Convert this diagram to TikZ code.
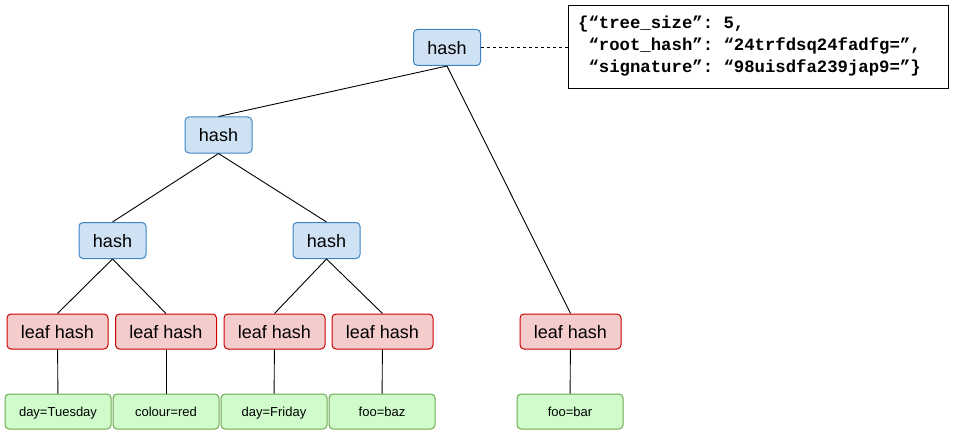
\documentclass[tikz,border=0pt]{standalone}
\usepackage{fontspec}
\setmainfont{Liberation Sans}
\newfontfamily\jsonfont{Liberation Mono}
\definecolor{bfill}{HTML}{CFE2F3}
\definecolor{bdraw}{HTML}{3D85C6}
\definecolor{rfill}{HTML}{F4CCCC}
\definecolor{rdraw}{HTML}{CC0000}
\definecolor{gfill}{HTML}{D0FCCC}
\definecolor{gdraw}{HTML}{6AA84F}
\begin{document}
\begin{tikzpicture}[x=1pt,y=-1pt,
  hashbox/.style={draw=bdraw,line width=1pt,fill=bfill,rounded corners=4pt,minimum width=67pt,minimum height=36pt,inner sep=0pt,text height=14pt,text depth=0pt,font=\fontsize{18}{20}\selectfont},
  leafbox/.style={draw=rdraw,line width=1pt,fill=rfill,rounded corners=4pt,minimum width=101pt,minimum height=35pt,inner sep=0pt,text height=14pt,text depth=0pt,font=\fontsize{18}{20}\selectfont},
  databox/.style={draw=gdraw,line width=1pt,fill=gfill,rounded corners=4pt,minimum width=106pt,minimum height=35pt,inner sep=0pt,text height=10.5pt,text depth=0pt,font=\fontsize{13}{15}\selectfont},
  edge/.style={draw=black,line width=0.9pt}]
\useasboundingbox (0,0) rectangle (954,436);
\node[hashbox] (root) at (447,47.5) {hash};
\node[hashbox] (h2) at (218.5,135) {hash};
\node[hashbox] (h3a) at (112.5,240.5) {hash};
\node[hashbox] (h3b) at (326.5,240.5) {hash};
\node[leafbox] (l1) at (57.5,331.5) {leaf hash};
\node[leafbox] (l2) at (166,331.5) {leaf hash};
\node[leafbox] (l3) at (274.5,331.5) {leaf hash};
\node[leafbox] (l4) at (382.5,331.5) {leaf hash};
\node[leafbox] (l5) at (570.5,331.5) {leaf hash};
\node[databox] (d1) at (58,411.5) {day=Tuesday};
\node[databox] (d2) at (166,411.5) {colour=red};
\node[databox] (d3) at (274,411.5) {day=Friday};
\node[databox] (d4) at (382,411.5) {foo=baz};
\node[databox] (d5) at (570,411.5) {foo=bar};
\node[draw=black,line width=1pt,minimum width=380pt,minimum height=83pt,inner sep=0pt] (json) at (758,47.5) {};
\node[anchor=west,align=left,inner sep=0pt,font=\jsonfont\bfseries\fontsize{17.3}{22}\selectfont\frenchspacing] (jtext) at (578,46) {\{“tree\_size”: 5,\\\mbox{} “root\_hash”: “24trfdsq24fadfg=”,\\\mbox{} “signature”: “98uisdfa239jap9=”\}};
\draw[edge] (root.south) -- (h2.north);
\draw[edge] (root.south) -- (l5.north);
\draw[edge] (h2.south) -- (h3a.north);
\draw[edge] (h2.south) -- (h3b.north);
\draw[edge] (h3a.south) -- (l1.north);
\draw[edge] (h3a.south) -- (l2.north);
\draw[edge] (h3b.south) -- (l3.north);
\draw[edge] (h3b.south) -- (l4.north);
\draw[edge] (l1) -- (d1);
\draw[edge] (l2) -- (d2);
\draw[edge] (l3) -- (d3);
\draw[edge] (l4) -- (d4);
\draw[edge] (l5) -- (d5);
\draw[edge,dash pattern=on 3pt off 3pt] (root.east) -- (json.west);
\end{tikzpicture}
\end{document}
